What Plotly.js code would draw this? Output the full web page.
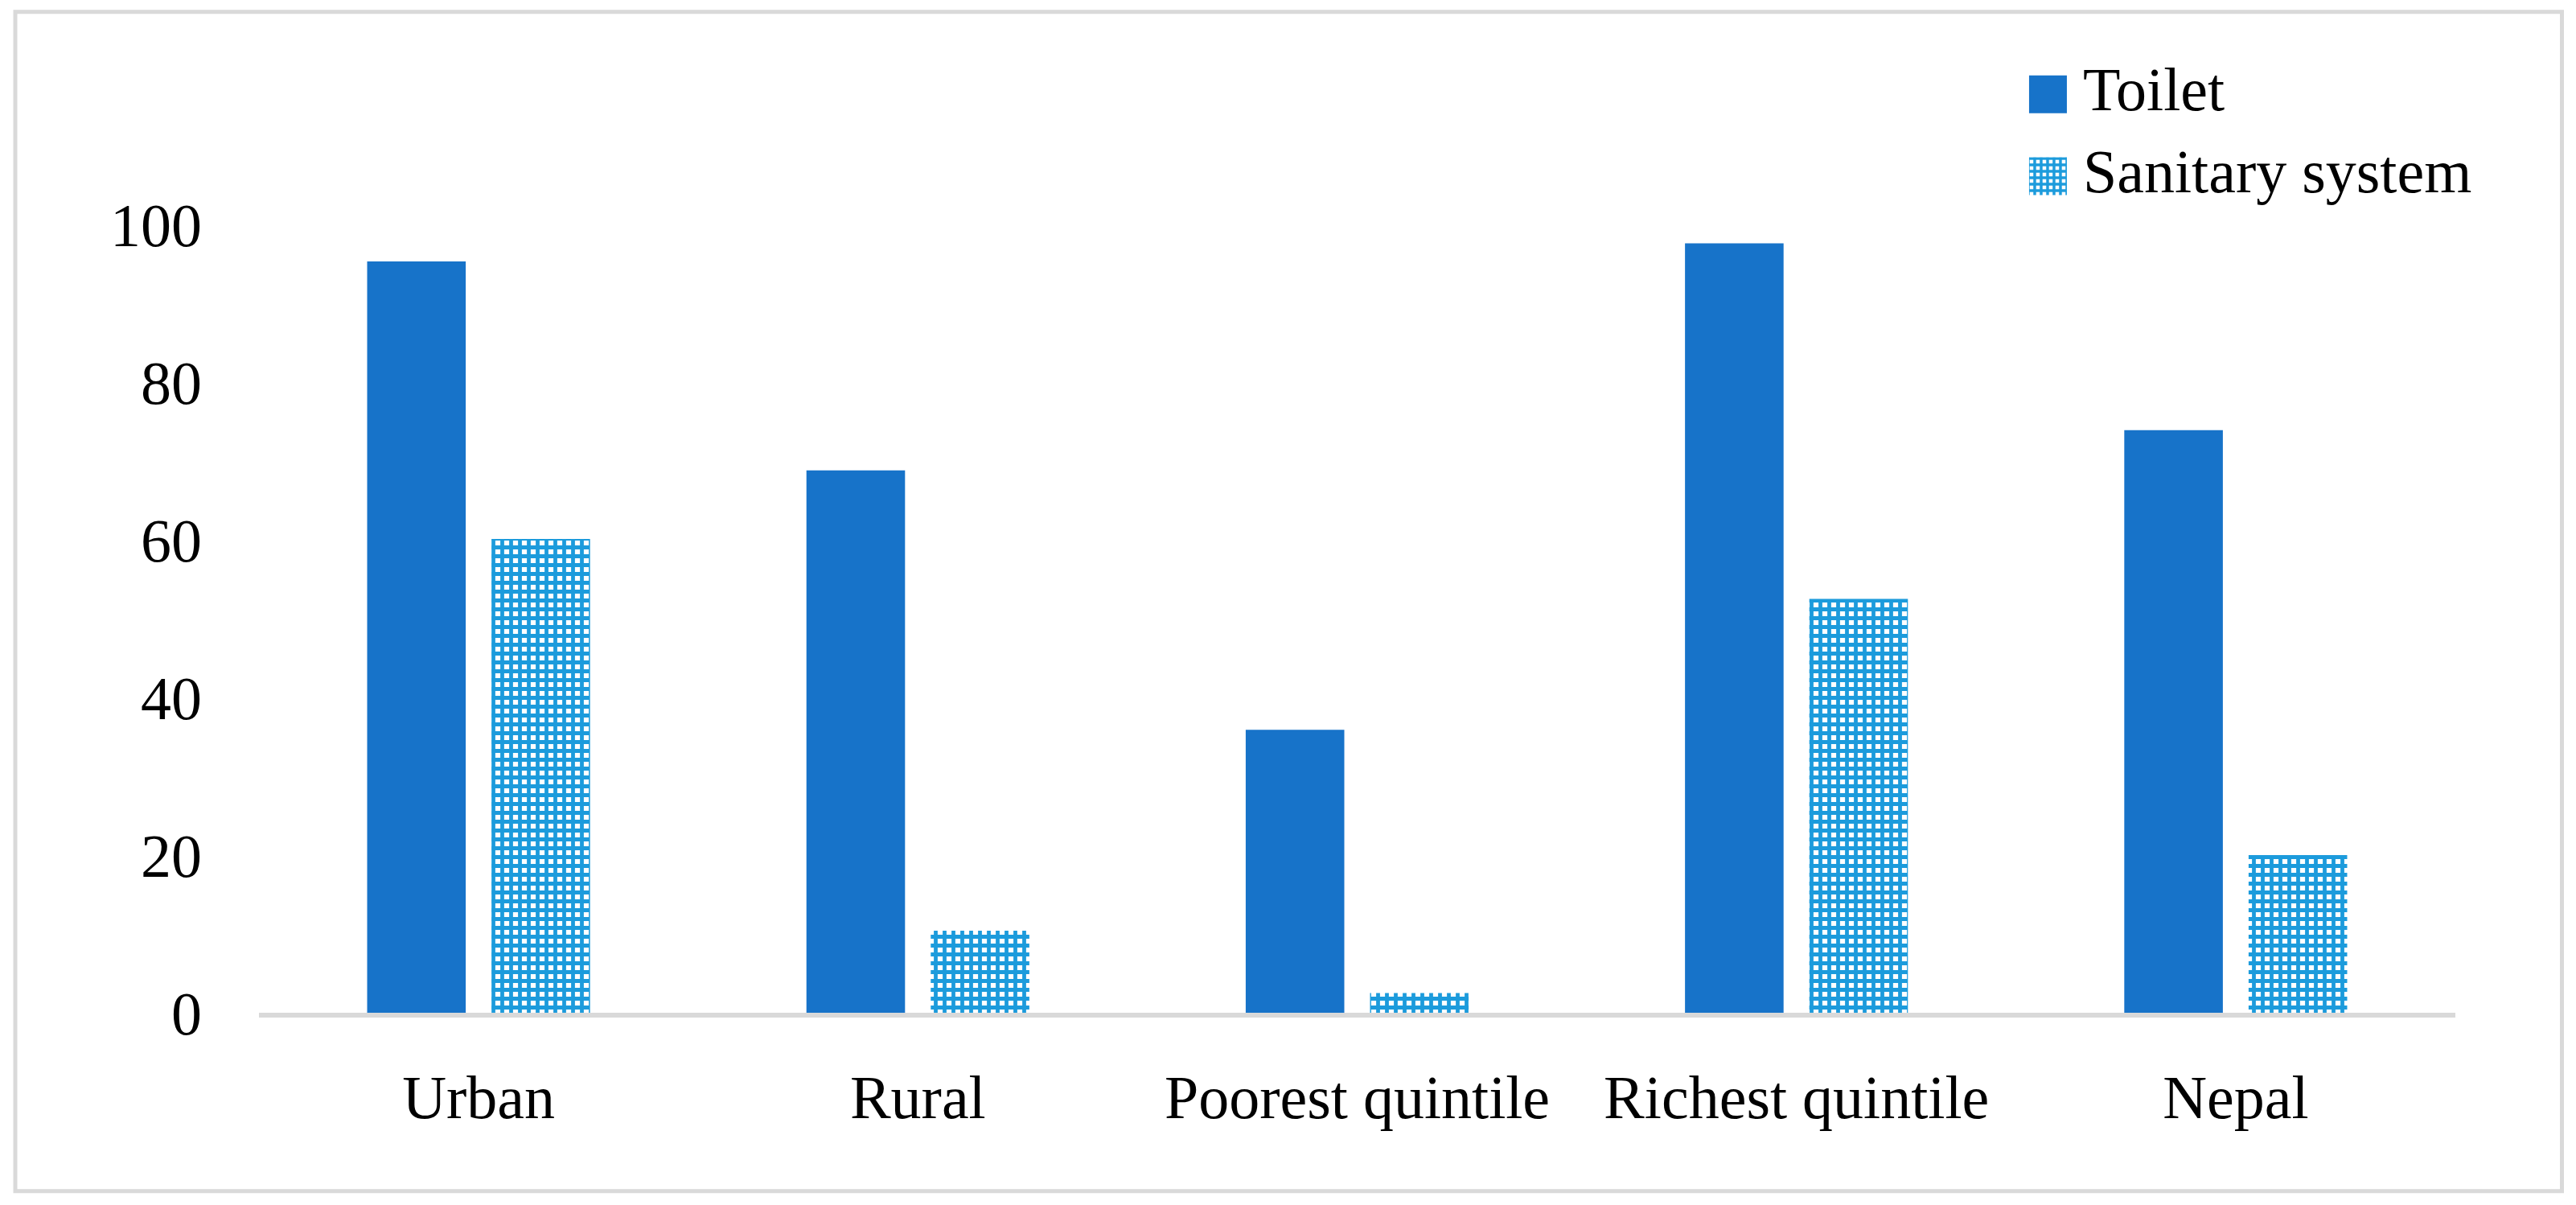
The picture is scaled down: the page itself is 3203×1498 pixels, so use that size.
<!DOCTYPE html>
<html>
<head>
<meta charset="utf-8">
<script src="https://cdn.plot.ly/plotly-3.0.1.min.js"></script>
<style>
  html, body { margin: 0; padding: 0; background: #ffffff; }
  #chart { width: 3203px; height: 1498px; }
</style>
</head>
<body>
<div id="chart"></div>
<script>
// ---- data ----
const categories = ["Urban", "Rural", "Poorest quintile", "Richest quintile", "Nepal"];
const toiletValues = [95.3, 68.8, 35.9, 97.6, 73.9];
const sanitaryValues = [60.1, 10.4, 2.5, 52.5, 20.0];
const seriesNames = ["Toilet", "Sanitary system"];
const yTickValues = [0, 20, 40, 60, 80, 100];
const yTickLabels = ["0", "20", "40", "60", "80", "100"];

const fontFamily = "Liberation Serif, Times New Roman, serif";

const traces = [
  {
    type: "bar",
    name: seriesNames[0],
    x: categories,
    y: toiletValues,
    marker: { color: "#1773C9", line: { width: 0 } },
    hoverinfo: "x+y"
  },
  {
    type: "bar",
    name: seriesNames[1],
    x: categories,
    y: sanitaryValues,
    marker: {
      color: "#1C9BDC",
      line: { width: 0 },
      pattern: { shape: "+", fgcolor: "#1C9BDC", bgcolor: "#ffffff", size: 11, solidity: 0.68, fillmode: "replace" }
    },
    hoverinfo: "x+y"
  }
];

const layout = {
  width: 3203,
  height: 1498,
  margin: { l: 322, r: 150, t: 279, b: 239, pad: 0 },
  paper_bgcolor: "#ffffff",
  plot_bgcolor: "#ffffff",
  font: { family: fontFamily, size: 76, color: "#000000" },
  barmode: "group",
  bargap: 0.434,
  bargroupgap: 0.207,
  showlegend: true,
  legend: {
    x: 0.8158, y: 1.2324, xanchor: "left", yanchor: "top",
    font: { family: fontFamily, size: 76, color: "#000000" },
    bgcolor: "rgba(0,0,0,0)", borderwidth: 0,
    itemclick: false, itemdoubleclick: false
  },
  xaxis: {
    type: "category",
    showgrid: false,
    zeroline: false,
    showline: true,
    linecolor: "#d9d9d9",
    linewidth: 6,
    ticks: "",
    ticklabelstandoff: 34,
    tickfont: { family: fontFamily, size: 76, color: "#000000" },
    fixedrange: true
  },
  yaxis: {
    range: [0, 100],
    tickmode: "array",
    tickvals: yTickValues,
    ticktext: yTickLabels,
    showgrid: false,
    zeroline: false,
    showline: false,
    ticks: "",
    ticklabelstandoff: 70,
    tickfont: { family: fontFamily, size: 76, color: "#000000" },
    fixedrange: true
  },
  shapes: [
    {
      type: "rect", xref: "paper", yref: "paper",
      x0: -0.11095, x1: 1.04851, y0: -0.2263, y1: 1.26962,
      line: { color: "#d9d9d9", width: 5 },
      fillcolor: "rgba(0,0,0,0)",
      layer: "below"
    }
  ]
};

Plotly.newPlot("chart", traces, layout, { displayModeBar: false, staticPlot: true }).then(function () {
  const legend = document.querySelector(".legend");
  if (!legend) return;
  // let the enlarged swatches extend past the legend box
  legend.querySelectorAll("[clip-path]").forEach(function (e) { e.removeAttribute("clip-path"); });
  // enlarge the legend swatches to the reference's square size (47 px), just left of the text
  const half = 23.5;
  const gap = 0;
  const dy = 10;
  legend.querySelectorAll("g.traces").forEach(function (tr) {
    const txt = tr.querySelector("text.legendtext");
    const pts = tr.querySelector(".legendpoints");
    const path = pts ? pts.querySelector("path") : null;
    if (!txt || !path) return;
    const tb = txt.getBoundingClientRect();
    const pb = path.getBoundingClientRect();
    const cx = (pb.left + pb.right) / 2;
    const dx = (tb.left - gap - half) - cx;
    path.removeAttribute("transform");
    path.setAttribute("d", "M" + (dx - half) + "," + (-half + dy) + "H" + (dx + half) + "V" + (half + dy) + "H" + (dx - half) + "Z");
  });
});
</script>
</body>
</html>
